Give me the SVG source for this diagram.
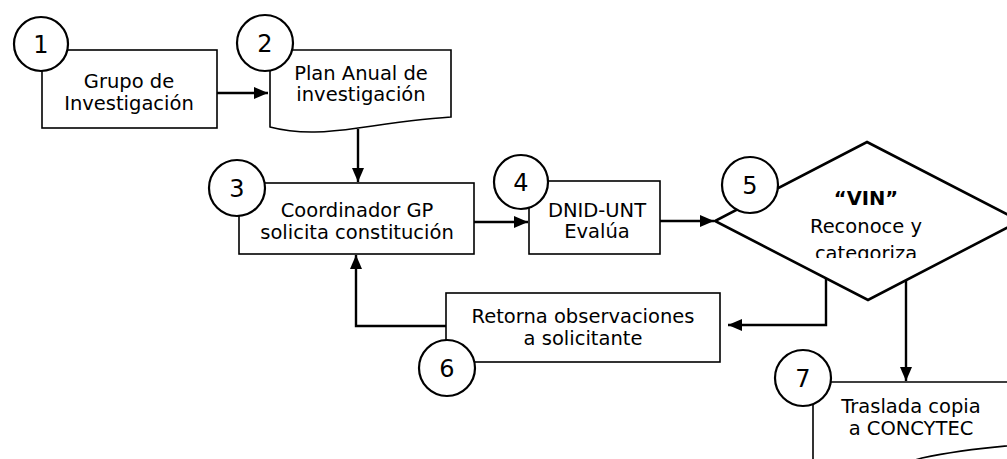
<svg xmlns="http://www.w3.org/2000/svg" width="1007" height="459" viewBox="0 0 1007 459">
<style>
.box{fill:#fff;stroke:#000;stroke-width:1.6}
.num{fill:#fff;stroke:#000;stroke-width:2.2}
.t{font-family:"DejaVu Sans",sans-serif;font-size:19.5px;fill:#000;text-anchor:middle}
.n{font-family:"DejaVu Sans",sans-serif;font-size:24px;fill:#000;text-anchor:middle}
.c{fill:none;stroke:#000;stroke-width:2.4}
</style>
<defs>
<marker id="ah" viewBox="0 0 14 12" refX="14" refY="6" markerWidth="14" markerHeight="12" markerUnits="userSpaceOnUse" orient="auto">
<path d="M0,0 L14,6 L0,12 Z" fill="#000"/>
</marker>
<clipPath id="dclip"><rect x="700" y="130" width="320" height="128"/></clipPath>
</defs>
<rect width="1007" height="459" fill="#fff"/>
<g id="connectors">
<line class="c" x1="217" y1="93" x2="268" y2="93" marker-end="url(#ah)"/>
<line class="c" x1="358" y1="129" x2="358" y2="182" marker-end="url(#ah)"/>
<line class="c" x1="474" y1="222" x2="528" y2="222" marker-end="url(#ah)"/>
<line class="c" x1="660" y1="221" x2="714" y2="221" marker-end="url(#ah)"/>
<polyline class="c" points="826,278 826,325 728,325" marker-end="url(#ah)"/>
<line class="c" x1="906" y1="280" x2="906" y2="381" marker-end="url(#ah)"/>
<polyline class="c" points="446,326 356,326 356,255" marker-end="url(#ah)"/>
</g>
<g id="node1">
<rect class="box" x="42" y="50" width="175" height="78"/>
<circle class="num" cx="41" cy="44" r="27"/>
<text class="n" x="41" y="53">1</text>
<text class="t" x="129" y="88">Grupo de</text>
<text class="t" x="129" y="110">Investigación</text>
</g>
<g id="node2">
<path class="box" d="M270,50 H451 V117 C420,119 385,124 358,128 C330,132 300,135 270,127 Z"/>
<circle class="num" cx="265" cy="43" r="28"/>
<text class="n" x="265" y="52">2</text>
<text class="t" x="361" y="80">Plan Anual de</text>
<text class="t" x="361" y="101">investigación</text>
</g>
<g id="node3">
<rect class="box" x="239" y="183" width="235" height="71"/>
<circle class="num" cx="237" cy="188" r="28"/>
<text class="n" x="237" y="197">3</text>
<text class="t" x="357" y="217">Coordinador GP</text>
<text class="t" x="357" y="239">solicita constitución</text>
</g>
<g id="node4">
<rect class="box" x="529" y="181" width="131" height="73"/>
<circle class="num" cx="521" cy="182" r="27"/>
<text class="n" x="521" y="191">4</text>
<text class="t" x="597" y="217">DNID-UNT</text>
<text class="t" x="597" y="238">Evalúa</text>
</g>
<g id="node5">
<polygon points="867,142 1020,221 868,300 715,221" fill="#fff" stroke="#000" stroke-width="2.6"/>
<circle class="num" cx="750" cy="185" r="28"/>
<text class="n" x="750" y="194">5</text>
<text class="t" x="866" y="205" font-weight="bold">“VIN”</text>
<text class="t" x="866" y="233">Reconoce y</text>
<text class="t" x="866" y="260" clip-path="url(#dclip)">categoriza</text>
</g>
<g id="node6">
<rect class="box" x="446" y="293" width="274" height="69"/>
<circle class="num" cx="447" cy="368" r="28"/>
<text class="n" x="447" y="377">6</text>
<text class="t" x="583" y="323">Retorna observaciones</text>
<text class="t" x="583" y="345">a solicitante</text>
</g>
<g id="node7">
<path class="box" d="M813,480 V382 H1030 V444 C990,447 955,451 922,458 C880,470 840,482 813,480 Z"/>
<circle class="num" cx="803" cy="378" r="28"/>
<text class="n" x="803" y="387">7</text>
<text class="t" x="911" y="413">Traslada copia</text>
<text class="t" x="911" y="435">a CONCYTEC</text>
</g>
</svg>
